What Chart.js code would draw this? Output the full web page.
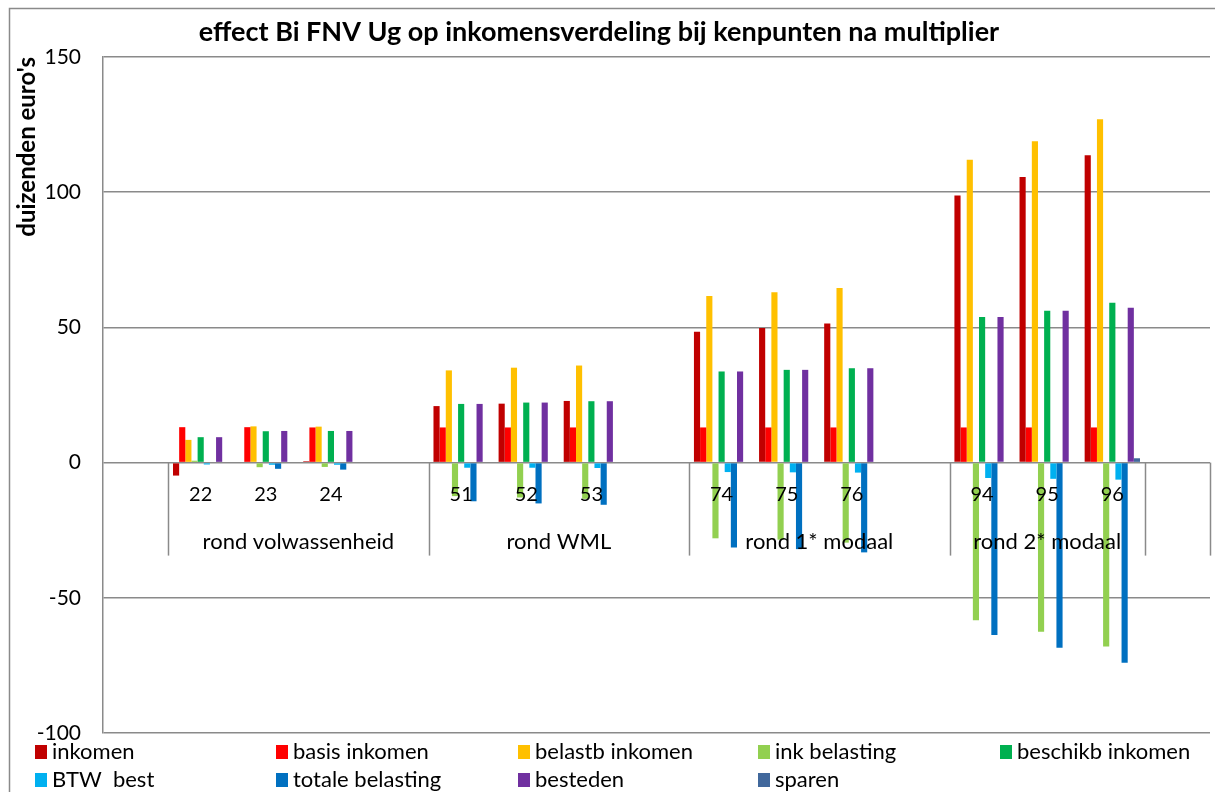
<!DOCTYPE html>
<html>
<head>
<meta charset="utf-8">
<script src="https://cdn.jsdelivr.net/npm/chart.js@4"></script>
<style>
  html, body { margin: 0; padding: 0; background: #fff; }
  #wrap { width: 1215px; height: 792px; }
</style>
</head>
<body>
<div id="wrap"><canvas id="kenpuntChart"></canvas></div>
<script>
// categories (empty slots are the gaps Excel leaves between the groups)
const labels = ['', '22', '23', '24', '', '51', '52', '53', '', '74', '75', '76', '', '94', '95', '96', ''];
const groupNames = ['rond volwassenheid', 'rond WML', 'rond 1* modaal', 'rond 2* modaal'];
const groupStart = [1, 5, 9, 13];
const groupEnd = [5, 9, 13, 16];   // boundary index after the last slot
const yTicks = [-100, -50, 0, 50, 100, 150];

// series, duizenden euro's
const inkomen   = [null, -4.8, 0, 0.5, null, 20.9, 21.8, 22.8, null, 48.4, 49.8, 51.4, null, 98.8, 105.6, 113.7, null];
const basis     = [null, 13.1, 13.1, 13, null, 13, 13, 13, null, 13, 13, 13, null, 13, 13, 13, null];
const belastb   = [null, 8.4, 13.4, 13.3, null, 34.1, 35.1, 35.9, null, 61.6, 63.0, 64.6, null, 112.0, 118.8, 127.0, null];
const inkBel    = [null, 0.7, -1.7, -1.6, null, -12.4, -12.9, -13.4, null, -28.0, -28.5, -29.6, null, -58.3, -62.6, -68.0, null];
const beschikb  = [null, 9.4, 11.6, 11.7, null, 21.7, 22.2, 22.7, null, 33.7, 34.3, 34.9, null, 53.8, 56.2, 59.1, null];
const btw       = [null, -0.7, -0.8, -0.8, null, -1.9, -1.9, -2.0, null, -3.5, -3.6, -3.7, null, -5.7, -6.0, -6.3, null];
const totaal    = [null, 0, -2.3, -2.6, null, -14.3, -15.1, -15.6, null, -31.4, -32.0, -33.2, null, -63.8, -68.5, -74.0, null];
const besteden  = [null, 9.4, 11.7, 11.7, null, 21.7, 22.2, 22.7, null, 33.7, 34.3, 34.9, null, 53.8, 56.2, 57.3, null];
const sparen    = [null, 0, 0, 0, null, 0, 0, 0, null, 0, 0, 0, null, 0, 0, 1.6, null];

const titleText = 'effect Bi FNV Ug op inkomensverdeling bij kenpunten na multiplier';
const FONT = 'Lato, "Open Sans", sans-serif';
const GRID = '#8a8a8a';

function ds(label, data, color) {
  return { label: label, data: data, backgroundColor: color, borderWidth: 0 };
}

const data = {
  labels: labels,
  datasets: [
    ds('inkomen', inkomen, '#C00000'),
    ds('basis inkomen', basis, '#FF0000'),
    ds('belastb inkomen', belastb, '#FFC000'),
    ds('ink belasting', inkBel, '#92D050'),
    ds('beschikb inkomen', beschikb, '#00B050'),
    ds('BTW  best', btw, '#00B0F0'),
    ds('totale belasting', totaal, '#0070C0'),
    ds('besteden', besteden, '#7030A0'),
    ds('sparen', sparen, '#41689C')
  ]
};

// outer frame + title, excel puts the title a bit left of centre
const frame = {
  id: 'frame',
  beforeDraw(chart) {
    const c = chart.ctx;
    c.save();
    c.strokeStyle = GRID;
    c.lineWidth = 1.5;
    c.strokeRect(9.5, 8.5, 1220, 800);
    c.fillStyle = '#000';
    c.font = 'bold 27px ' + FONT;
    c.textAlign = 'center';
    c.textBaseline = 'middle';
    c.fillText(titleText, 599, 32);
    c.restore();
  }
};

// category numbers, group separators and group names, drawn over the bars
const groupAxis = {
  id: 'groupAxis',
  afterDatasetsDraw(chart) {
    const x = chart.scales.x, y = chart.scales.y, c = chart.ctx;
    const slot = x.getPixelForValue(1) - x.getPixelForValue(0);
    const edge = i => x.getPixelForValue(i) - slot / 2;
    const y0 = y.getPixelForValue(0);
    c.save();
    c.strokeStyle = GRID;
    c.lineWidth = 1.5;
    const bounds = [1, 5, 9, 13, 16, 17];
    bounds.forEach(b => {
      const px = Math.round(edge(b)) + 0.5;
      c.beginPath();
      c.moveTo(px, y0);
      c.lineTo(px, y0 + 93);
      c.stroke();
    });
    c.fillStyle = '#000';
    c.textAlign = 'center';
    c.textBaseline = 'middle';
    c.font = '20px ' + FONT;
    chart.data.labels.forEach((l, i) => {
      if (l) c.fillText(l, x.getPixelForValue(i), y0 + 32);
    });
    c.font = '22px ' + FONT;
    groupNames.forEach((g, i) => {
      c.fillText(g, (edge(groupStart[i]) + edge(groupEnd[i])) / 2, y0 + 79);
    });
    c.restore();
  }
};

// legend in five fixed columns, like the excel one
const gridLegend = {
  id: 'gridLegend',
  afterDraw(chart) {
    const c = chart.ctx;
    const cols = [35, 276, 518, 758, 1000];
    const rows = [752, 780];
    c.save();
    c.font = '22px ' + FONT;
    c.textBaseline = 'middle';
    c.textAlign = 'left';
    chart.data.datasets.forEach((d, i) => {
      const cx = cols[i % 5], cy = rows[Math.floor(i / 5)];
      c.fillStyle = d.backgroundColor;
      c.fillRect(cx, cy - 7, 12, 14);
      c.fillStyle = '#000';
      c.fillText(d.label, cx + 17, cy);
    });
    c.restore();
  }
};

const config = {
  type: 'bar',
  data: data,
  options: {
    responsive: true,
    maintainAspectRatio: false,
    animation: false,
    layout: { padding: { left: 9, right: 5, top: 57, bottom: 59 } },
    datasets: {
      bar: { categoryPercentage: 0.85, barPercentage: 1.0 }
    },
    plugins: {
      legend: { display: false },
      tooltip: { enabled: false },
      title: { display: false }
    },
    scales: {
      x: {
        type: 'category',
        position: { y: 0 },
        offset: true,
        grid: { display: false, drawTicks: false },
        border: { display: false },
        ticks: { display: false }
      },
      y: {
        min: -100,
        max: 150,
        afterBuildTicks(scale) { scale.ticks = yTicks.map(v => ({ value: v })); },
        afterFit(scale) { scale.width = 94; },
        grid: { color: GRID, lineWidth: 1.5, drawTicks: false },
        border: { color: GRID, width: 1.5 },
        ticks: { color: '#000', padding: 22, font: { family: FONT, size: 21 } },
        title: {
          display: true,
          text: "duizenden euro's",
          align: 'end',
          color: '#000',
          font: { family: FONT, size: 24, weight: 'bold' },
          padding: { top: 4, bottom: 0 }
        }
      }
    }
  },
  plugins: [frame, groupAxis, gridLegend]
};

const kenpuntChart = new Chart(document.getElementById('kenpuntChart'), config);
</script>
</body>
</html>
